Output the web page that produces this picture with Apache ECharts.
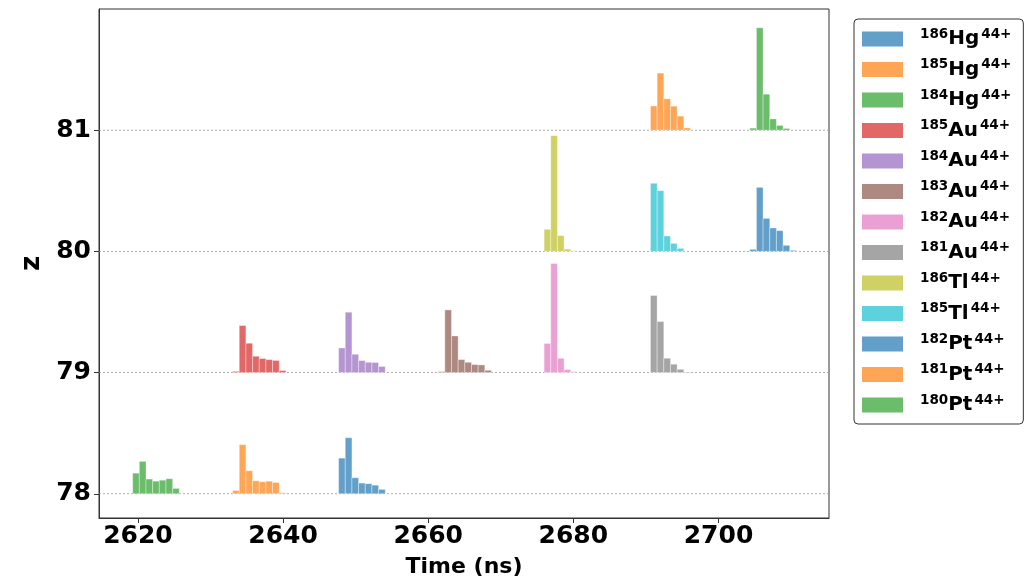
<!DOCTYPE html>
<html>
<head>
<meta charset="utf-8">
<script src="https://cdn.jsdelivr.net/npm/echarts@6/dist/echarts.min.js"></script>
<style>
html,body{margin:0;padding:0;background:#fff;}
#chart{width:1028px;height:582px;}
</style>
</head>
<body>
<div id="chart"></div>
<script>
// ---- data ----
const masses   = [186, 185, 184, 185, 184, 183, 182, 181, 186, 185, 182, 181, 180];
const elements = ['Hg', 'Hg', 'Hg', 'Au', 'Au', 'Au', 'Au', 'Au', 'Tl', 'Tl', 'Pt', 'Pt', 'Pt'];
const chargeLabel = '44+';
const zLevels    = [80, 81, 81, 79, 79, 79, 79, 79, 80, 80, 78, 78, 78];
const startTimes = [2704.31, 2690.63, 2704.31, 2633.04, 2647.65, 2661.37, 2675.97, 2690.63, 2675.97, 2690.63, 2647.65, 2633.04, 2619.27];
const binWidth = 0.918;

const hg186 = [0.017, 0.528, 0.272, 0.193, 0.171, 0.050, 0.008];
const hg185 = [0.200, 0.471, 0.259, 0.198, 0.116, 0.019];
const hg184 = [0.017, 0.845, 0.297, 0.093, 0.039, 0.014];
const au185 = [0.010, 0.388, 0.242, 0.135, 0.116, 0.107, 0.100, 0.017];
const au184 = [0.203, 0.498, 0.151, 0.099, 0.085, 0.083, 0.050];
const au183 = [0.008, 0.517, 0.302, 0.107, 0.085, 0.066, 0.063, 0.019];
const au182 = [0.240, 0.900, 0.118, 0.025, 0.008];
const au181 = [0.636, 0.421, 0.118, 0.069, 0.027, 0.005];
const tl186 = [0.182, 0.955, 0.130, 0.019, 0.005];
const tl185 = [0.562, 0.501, 0.127, 0.066, 0.025];
const pt182 = [0.294, 0.462, 0.132, 0.088, 0.083, 0.071, 0.036];
const pt181 = [0.027, 0.405, 0.190, 0.107, 0.099, 0.104, 0.093, 0.008];
const pt180 = [0.170, 0.267, 0.121, 0.104, 0.112, 0.124, 0.044];
const heights = [hg186, hg185, hg184, au185, au184, au183, au182, au181, tl186, tl185, pt182, pt181, pt180];

const xTicks = [2620, 2640, 2660, 2680, 2700];
const yTicks = [78, 79, 80, 81];

// ---- styles ----
const colors = ['#62a0ca', '#ffa556', '#6bbc6b', '#e26868', '#b495d1', '#ae8981', '#eba0d4',
                '#a5a5a5', '#d0d164', '#5dd2dd', '#62a0ca', '#ffa556', '#6bbc6b'];
const FONT = 'DejaVu Sans';

const names = masses.map((m, i) => m + elements[i]);

const histSeries = names.map((name, i) => {
  const data = heights[i].map((h, k) => {
    const x0 = startTimes[i] + k * binWidth;
    return [x0, x0 + binWidth, zLevels[i], zLevels[i] + h];
  });
  return {
    name: name,
    type: 'custom',
    data: data,
    encode: {x: [0, 1], y: [2, 3]},
    itemStyle: {color: colors[i]},
    z: 3,
    renderItem: function (params, api) {
      const p0 = api.coord([api.value(0), api.value(2)]);
      const p1 = api.coord([api.value(1), api.value(3)]);
      return {
        type: 'rect',
        shape: {x: p0[0], y: p1[1], width: p1[0] - p0[0], height: p0[1] - p1[1]},
        style: {fill: colors[i], stroke: 'rgba(255,255,255,0.35)', lineWidth: 1}
      };
    }
  };
});

const gridLineSeries = {
  type: 'custom',
  silent: true,
  z: 1,
  data: yTicks.map(v => [v]),
  encode: {y: 0},
  renderItem: function (params, api) {
    const cs = params.coordSys;
    const yy = api.coord([2650, api.value(0)])[1];
    return {
      type: 'line',
      shape: {x1: cs.x, y1: yy, x2: cs.x + cs.width, y2: yy},
      style: {stroke: '#9a9a9a', lineWidth: 0.8, lineDash: [2, 2]}
    };
  }
};

const chart = echarts.init(document.getElementById('chart'), null, {renderer: 'canvas'});
chart.setOption({
  animation: false,
  backgroundColor: '#fff',
  grid: {left: 99, right: 199, top: 9, bottom: 64, containLabel: false, outerBoundsMode: 'none',
         show: true, borderColor: '#333', borderWidth: 1, backgroundColor: 'transparent'},
  xAxis: {
    type: 'value', min: 2614.63, max: 2715.23,
    name: 'Time (ns)', nameLocation: 'middle', nameGap: 38,
    nameTextStyle: {fontFamily: FONT, fontWeight: 'bold', fontSize: 22, color: '#000'},
    axisLine: {show: true, lineStyle: {color: '#333', width: 1}},
    axisTick: {show: true, length: 5, lineStyle: {color: '#333'}, customValues: xTicks},
    axisLabel: {fontFamily: FONT, fontWeight: 'bold', fontSize: 25, color: '#000', margin: 6,
                customValues: xTicks, formatter: v => String(v)},
    splitLine: {show: false}
  },
  yAxis: {
    type: 'value', min: 77.8, max: 82.0,
    name: 'z', nameLocation: 'middle', nameGap: 51, nameRotate: 90,
    nameTextStyle: {fontFamily: FONT, fontWeight: 'bold', fontSize: 26, color: '#000'},
    axisLine: {show: true, lineStyle: {color: '#333', width: 1}},
    axisTick: {show: true, length: 5, lineStyle: {color: '#333'}, customValues: yTicks},
    axisLabel: {fontFamily: FONT, fontWeight: 'bold', fontSize: 25, color: '#000', margin: 8,
                customValues: yTicks, formatter: v => String(v)},
    splitLine: {show: false}
  },
  legend: {
    orient: 'vertical',
    left: 854, top: 19,
    padding: [8, 12, 9, 8],
    itemGap: 8.5,
    itemWidth: 41, itemHeight: 15,
    icon: 'rect',
    borderColor: '#333', borderWidth: 1, borderRadius: 4,
    backgroundColor: '#fff',
    data: names,
    formatter: function (name) {
      const i = names.indexOf(name);
      return '{a|' + masses[i] + '}{b|' + elements[i] + '}{c|' + chargeLabel + '}';
    },
    textStyle: {
      color: '#000',
      fontFamily: FONT,
      rich: {
        a: {fontFamily: FONT, fontWeight: 'bold', fontSize: 13.5, lineHeight: 12, verticalAlign: 'top', padding: [0, 0, 0, 12], color: '#000'},
        b: {fontFamily: FONT, fontWeight: 'bold', fontSize: 20, lineHeight: 24, color: '#000'},
        c: {fontFamily: FONT, fontWeight: 'bold', fontSize: 13.5, lineHeight: 12, verticalAlign: 'top', padding: [0, 0, 0, 2], color: '#000'}
      }
    }
  },
  series: [gridLineSeries].concat(histSeries)
});
</script>
</body>
</html>
